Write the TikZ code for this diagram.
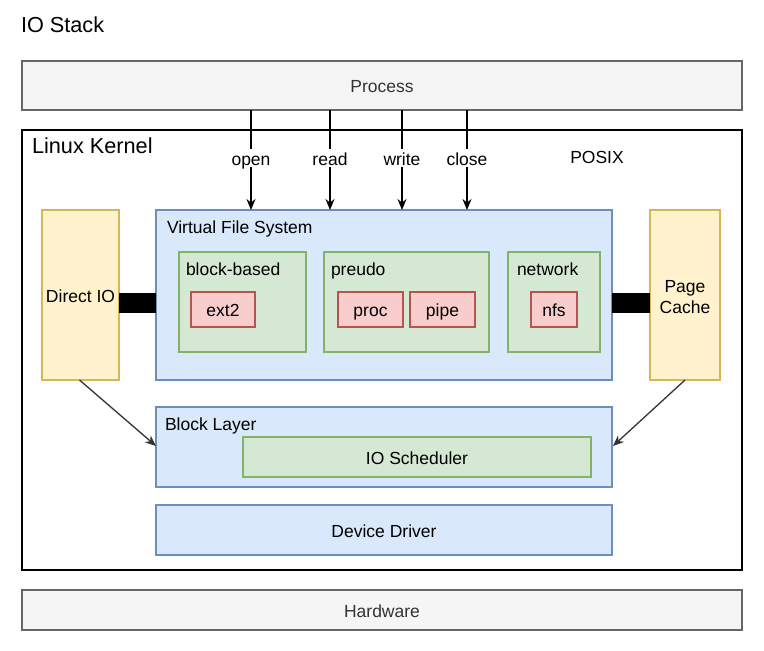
\documentclass[tikz,border=0pt]{standalone}
\usepackage{fontspec}
\setmainfont{Liberation Sans}
\usetikzlibrary{arrows.meta}
\definecolor{grayfill}{HTML}{F5F5F5}
\definecolor{grayline}{HTML}{666666}
\definecolor{bluefill}{HTML}{DAE8FC}
\definecolor{blueline}{HTML}{6C8EBF}
\definecolor{greenfill}{HTML}{D5E8D4}
\definecolor{greenline}{HTML}{82B366}
\definecolor{redfill}{HTML}{F8CECC}
\definecolor{redline}{HTML}{B85450}
\definecolor{yellowfill}{HTML}{FFF2CC}
\definecolor{yellowline}{HTML}{D6B656}
\definecolor{darktext}{HTML}{333333}
\tikzset{
  tline/.style={text height=15pt, text depth=1pt},
  base/.style={inner sep=0pt, outer sep=0pt, line width=1.3pt, anchor=north west,
    font=\fontsize{17.5}{21}\selectfont, align=center},
  graybox/.style={base, tline, draw=grayline, fill=grayfill, text=darktext},
  bluebox/.style={base, tline, draw=blueline, fill=bluefill},
  greenbox/.style={base, tline, draw=greenline, fill=greenfill},
  redbox/.style={base, tline, draw=redline, fill=redfill},
  yellowbox/.style={base, draw=yellowline, fill=yellowfill},
  kernelbox/.style={base, draw=black, fill=white, line width=1.5pt},
  lbl/.style={inner sep=0pt, outer sep=0pt, tline, font=\fontsize{17.5}{21}\selectfont, anchor=west},
  title/.style={inner sep=0pt, outer sep=0pt, text height=20pt, text depth=3pt, font=\fontsize{21.7}{26}\selectfont, anchor=west},
  arr/.style={line width=1.3pt, -{Stealth[length=11pt,width=9pt]}},
  callarr/.style={line width=1.3pt, -{Stealth[length=11pt,width=9pt]}},
  bar/.style={line width=20pt},
}
\begin{document}
\begin{tikzpicture}[x=1pt,y=-1pt]
\useasboundingbox (0,0) rectangle (764,651);
\node[title] (iostack) at (21,24) {IO Stack};
\node[graybox, minimum width=720, minimum height=49] (process) at (22,61) {Process};
\node[kernelbox, minimum width=720, minimum height=440] (kernel) at (22,130) {};
\node[title] (kernellbl) at (32,145) {Linux Kernel};
\node[lbl, anchor=center] (posix) at (597,156) {POSIX};
% VFS
\node[yellowbox, tline, minimum width=77, minimum height=170] (dio) at (42,210) {Direct IO};
\node[bluebox, minimum width=456, minimum height=170] (vfs) at (156,210) {};
\node[lbl] (vfslbl) at (167,226) {Virtual File System};
\node[yellowbox, minimum width=70, minimum height=170] (pc) at (650,210) {};
\node[font=\fontsize{17.5}{21}\selectfont, align=center, inner sep=0pt] (pclbl) at (685,297) {Page\\Cache};
\node[greenbox, minimum width=127, minimum height=100] (blk) at (179,252) {};
\node[lbl] (blklbl) at (186,268) {block-based};
\node[redbox, minimum width=64, minimum height=35] (ext2) at (191,292) {ext2};
\node[greenbox, minimum width=165, minimum height=100] (pseudo) at (324,252) {};
\node[lbl] (pseudolbl) at (331,268) {preudo};
\node[redbox, minimum width=65, minimum height=35] (procfs) at (338,292) {proc};
\node[redbox, minimum width=65, minimum height=35] (pipe) at (410,292) {pipe};
\node[greenbox, minimum width=92, minimum height=100] (net) at (508,252) {};
\node[lbl] (netlbl) at (517,268) {network};
\node[redbox, minimum width=46, minimum height=35] (nfs) at (531,292) {nfs};
% bars
\draw[bar] ([yshift=-8]dio.east) -- ([yshift=-8]vfs.west);
\draw[bar] ([yshift=-8]vfs.east) -- ([yshift=-8]pc.west);
% block layer
\node[bluebox, minimum width=456, minimum height=80] (bl) at (156,407) {};
\node[lbl] (bllbl) at (165,423) {Block Layer};
\node[greenbox, minimum width=348, minimum height=40] (sched) at (243,437) {IO Scheduler};
\node[bluebox, minimum width=456, minimum height=50] (dd) at (156,505) {Device Driver};
\node[graybox, minimum width=720, minimum height=40] (hw) at (22,590) {Hardware};
% syscalls
\foreach \x/\t in {251/open,330/read,402/write,467/close}{
  \draw[callarr] (process.south -| \x,0) -- node[fill=white, inner sep=1pt, tline, font=\fontsize{17.5}{21}\selectfont, pos=0.48] {\t} (vfs.north -| \x,0);
}
% diagonals
\draw[arr, draw=darktext] (dio.south) ++(-1,0) coordinate (dios) -- (156,446) coordinate (ble);
\draw[arr, draw=darktext] (pc.south) coordinate (pcs) -- (613,446) coordinate (blr);
\end{tikzpicture}
\end{document}
